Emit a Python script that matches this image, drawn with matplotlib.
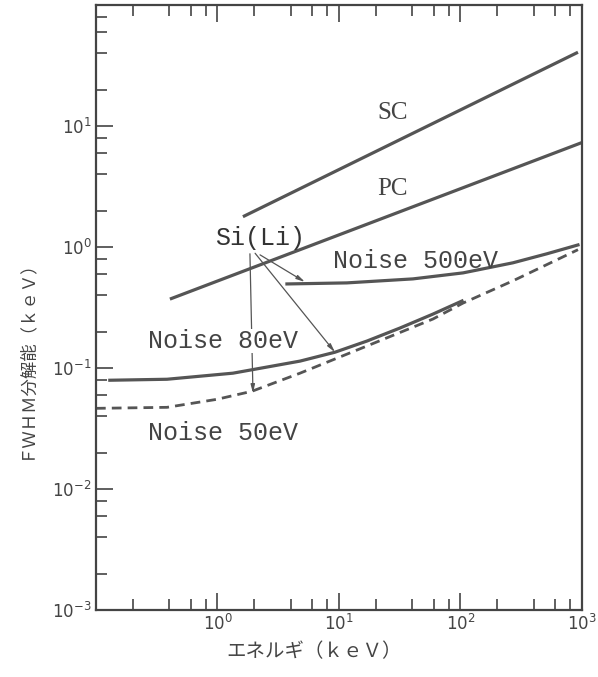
import matplotlib
matplotlib.use("Agg")
from matplotlib import pyplot as plt
from matplotlib.ticker import LogLocator, NullFormatter
import numpy as np

# curves (energy keV, FWHM keV)
sc_e = [1.62, 927]
sc_w = [1.78, 40.7]

pc_e = [0.406, 1000]
pc_w = [0.371, 7.3]

n500_e = [3.73, 11.6, 40.6, 105, 270, 515, 927]
n500_w = [0.495, 0.505, 0.545, 0.611, 0.740, 0.879, 1.04]

n80_e = [0.130, 0.384, 1.34, 4.78, 9.27, 17.0, 31.8, 59.4, 103]
n80_w = [0.0792, 0.0807, 0.0906, 0.114, 0.135, 0.167, 0.214, 0.279, 0.358]

n50_e = [0.1, 0.384, 0.99, 1.92, 4.78, 17.0, 59.4, 105, 270, 927]
n50_w = [0.0464, 0.0473, 0.0551, 0.0642, 0.0906, 0.152, 0.254, 0.344, 0.525, 0.95]

# Si(Li) pointer lines: (start, end)
sili_text = (2.24, 1.19)
pointers = [((1.85, 0.879), (1.96, 0.0618)),
            ((2.04, 0.888), (9.27, 0.135)),
            ((2.24, 0.861), (5.25, 0.514))]

xticks = [1, 10, 100, 1000]
xlabels = [r"$10^{0}$", r"$10^{1}$", r"$10^{2}$", r"$10^{3}$"]
yticks = [1e-3, 1e-2, 1e-1, 1, 10]
ylabels = [r"$10^{-3}$", r"$10^{-2}$", r"$10^{-1}$", r"$10^{0}$", r"$10^{1}$"]

ink = "#555555"

fig = plt.figure(figsize=(5.98, 6.77), dpi=100)
ax = fig.add_axes([0.1605, 0.099, 0.8127, 0.8936])
ax.set_xscale("log")
ax.set_yscale("log")
ax.set_xlim(0.1, 1000)
ax.set_ylim(1e-3, 100)

ax.plot(sc_e, sc_w, color=ink, lw=2.3, solid_capstyle="butt")
ax.plot(pc_e, pc_w, color=ink, lw=2.3, solid_capstyle="butt")
ax.plot(n500_e, n500_w, color=ink, lw=2.3)
ax.plot(n80_e, n80_w, color=ink, lw=2.3)
ax.plot(n50_e, n50_w, color=ink, lw=2.0, dashes=(3.5, 2.2))

mono = "Liberation Mono"
serif = "Liberation Serif"
ax.text(27.8, 12.7, "SC", fontsize=18, family=serif, color="#444444", ha="center", va="center")
ax.text(27.8, 3.04, "PC", fontsize=18, family=serif, color="#444444", ha="center", va="center")
ax.text(43, 0.769, "Noise 500eV", fontsize=18, family=mono, color="#444444", ha="center", va="center")
ax.text(1.11, 0.167, "Noise 80eV", fontsize=18, family=mono, color="#444444", ha="center", va="center",
        bbox=dict(facecolor="white", edgecolor="none", pad=0), zorder=5)
ax.text(1.11, 0.0288, "Noise 50eV", fontsize=18, family=mono, color="#444444", ha="center", va="center")
ax.text(sili_text[0], sili_text[1], "Si(Li)", fontsize=18, family=mono, color="#333333",
        ha="center", va="center")

for start, end in pointers:
    ax.annotate("", xy=end, xytext=start,
                arrowprops=dict(arrowstyle="-|>,head_length=0.5,head_width=0.12",
                                color="#555555", lw=0.9, shrinkA=0, shrinkB=0))

ax.xaxis.set_major_locator(plt.FixedLocator(xticks))
ax.yaxis.set_major_locator(plt.FixedLocator(yticks))
ax.set_xticklabels(xlabels)
ax.set_yticklabels(ylabels)
ax.xaxis.set_minor_locator(LogLocator(base=10, subs=(2, 4, 6, 8), numticks=20))
ax.yaxis.set_minor_locator(LogLocator(base=10, subs=(2, 4, 6, 8), numticks=20))
ax.xaxis.set_minor_formatter(NullFormatter())
ax.yaxis.set_minor_formatter(NullFormatter())

ax.tick_params(which="both", direction="in", top=True, right=False, color="#444444",
               labelcolor="#444444", labelsize=12, width=1.2, pad=3)
ax.tick_params(which="major", length=12)
ax.tick_params(which="minor", length=8)
for s in ax.spines.values():
    s.set_color("#444444")
    s.set_linewidth(1.6)

cjk = ["Noto Sans CJK JP", "DejaVu Sans"]
fig.text(0.042, 1 - 355 / 677, "ＦＷＨＭ分解能（ｋｅＶ）", rotation=90, fontsize=12.5, family=cjk,
         color="#444444", ha="center", va="center")
fig.text(314 / 598, 1 - 652 / 677, "エネルギ（ｋｅＶ）", fontsize=14, family=cjk,
         color="#444444", ha="center", va="center")

fig.savefig("out.png", dpi=100)
